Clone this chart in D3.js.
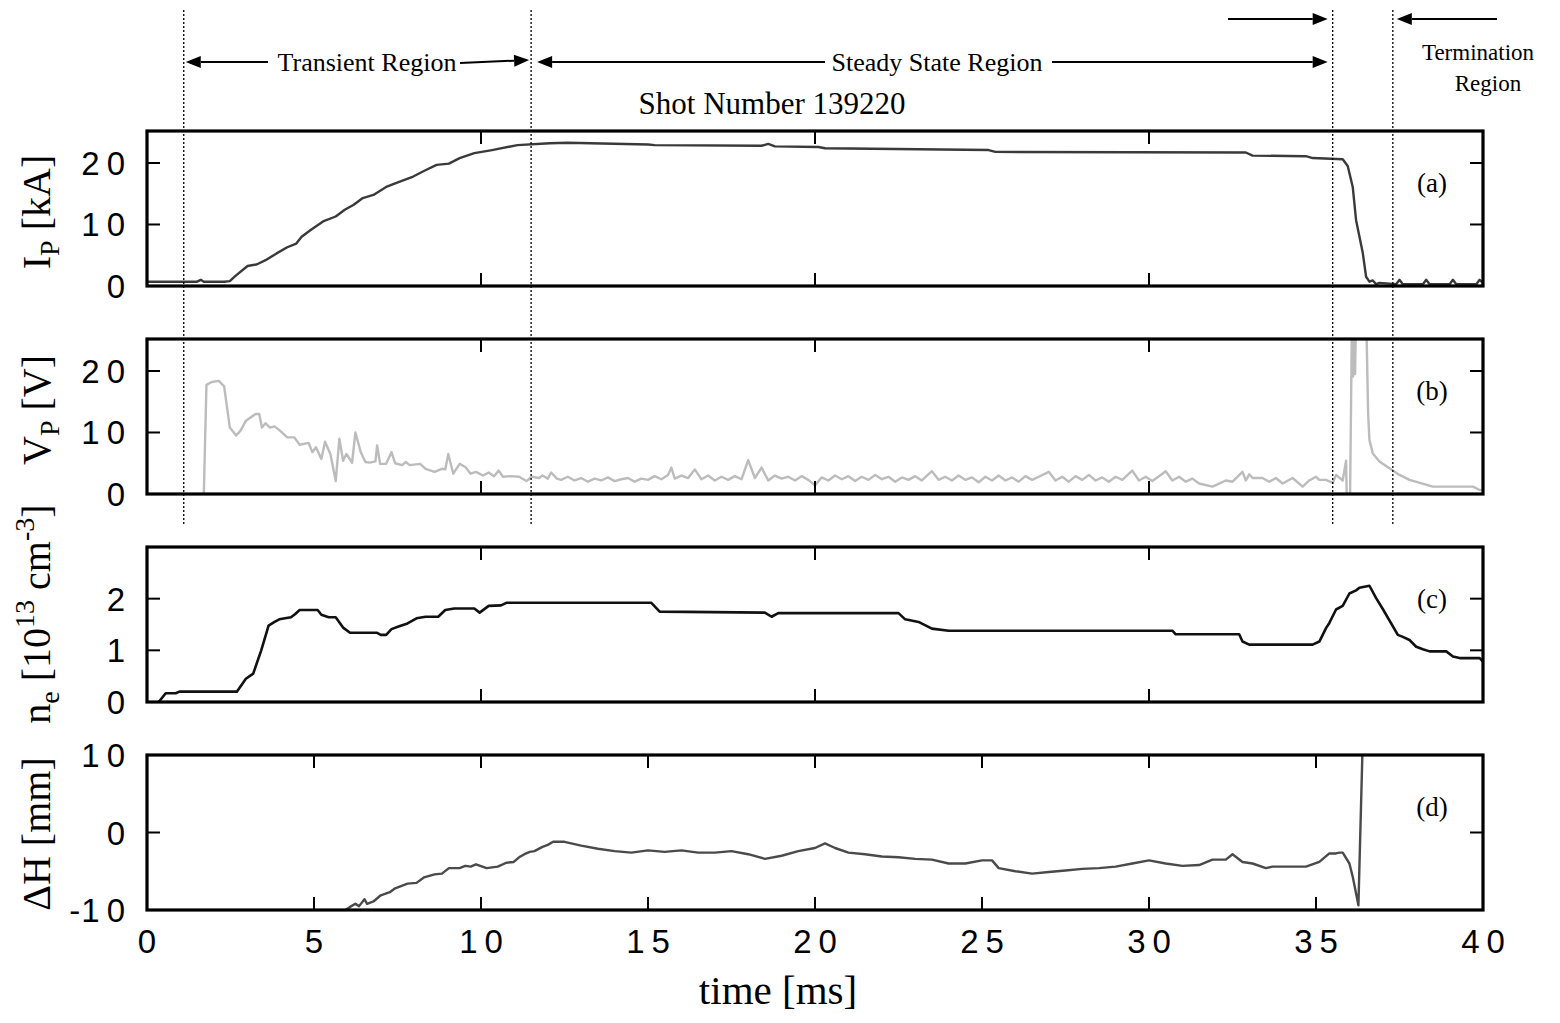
<!DOCTYPE html>
<html>
<head>
<meta charset="utf-8">
<script src="https://cdn.jsdelivr.net/npm/d3@7"></script>
<style>
body { margin: 0; background: #fff; }
</style>
</head>
<body>
<script>
// ---- data ----
var xTicks = [0, 5, 10, 15, 20, 25, 30, 35, 40];
var regionBounds = [1.1, 11.5, 35.5, 37.3];

var ipTime = [0, 1.5, 1.61, 1.7, 2.31, 2.48, 2.64, 3.01, 3.28, 3.55, 3.88, 4.2, 4.47, 4.63, 4.9, 5.27, 5.65, 5.92, 6.19, 6.46, 6.78, 7.16, 7.53, 7.97, 8.29, 8.67, 9.04, 9.36, 9.8, 10.33, 11.09, 12.06, 12.6, 15.0, 15.2, 18.4, 18.6, 18.8, 20.1, 20.3, 25.2, 25.4, 32.9, 33.1, 34.7, 34.9, 35.8, 35.95, 36.1, 36.2, 36.4, 36.5, 36.6, 36.7, 36.8, 36.9, 37.4, 37.5, 37.6, 38.2, 38.3, 38.4, 39.0, 39.1, 39.2, 39.8, 39.9, 40];
var ipVal  = [0.7, 0.7, 1.0, 0.7, 0.7, 0.8, 1.6, 3.25, 3.5, 4.2, 5.3, 6.3, 6.9, 8.0, 9.1, 10.5, 11.3, 12.4, 13.2, 14.3, 14.8, 16.1, 16.9, 17.8, 18.7, 19.7, 19.9, 20.8, 21.6, 22.1, 22.9, 23.2, 23.3, 23.0, 22.9, 22.8, 23.1, 22.7, 22.6, 22.4, 22.1, 21.8, 21.7, 21.2, 21.1, 20.8, 20.6, 19.5, 16.1, 10.7, 5.4, 1.5, 0.7, 0.9, 0.3, 0.5, 0.3, 1.0, 0.3, 0.3, 1.0, 0.3, 0.3, 1.0, 0.3, 0.3, 1.0, 0.5];

var vpTime = [0, 1.7, 1.78, 1.94, 2.15, 2.31, 2.48, 2.67, 2.8, 2.96, 3.25, 3.36, 3.44, 3.55, 3.68, 3.82, 3.98, 4.2, 4.41, 4.57, 4.84, 4.95, 5.06, 5.22, 5.33, 5.49, 5.65, 5.76, 5.87, 5.97, 6.14, 6.24, 6.4, 6.54, 6.67, 6.84, 6.89, 6.98, 7.16, 7.32, 7.43, 7.64, 7.75, 7.86, 8.18, 8.34, 8.61, 8.83, 8.93, 9.02, 9.17, 9.36, 9.53, 9.69, 9.85, 10.06, 10.23, 10.39, 10.53, 10.66, 10.87, 11.14, 11.36, 11.52, 11.74, 11.84, 12.0, 12.1, 12.27,
  12.4, 12.6, 12.8, 13.0, 13.2, 13.4, 13.6, 13.8, 14.0, 14.2, 14.4, 14.6, 14.8, 15.0, 15.2, 15.4, 15.6, 15.7, 15.8, 16.0, 16.2, 16.4, 16.6, 16.8, 17.0, 17.2, 17.4, 17.6, 17.8, 18.0, 18.2, 18.4, 18.6, 18.8, 19.0, 19.2, 19.4, 19.6, 19.8, 20.0, 20.2, 20.4, 20.6, 20.8, 21.0, 21.2, 21.4, 21.6, 21.8, 22.0, 22.2, 22.4, 22.6, 22.8, 23.0, 23.2, 23.5, 23.7, 23.9, 24.1, 24.3, 24.5, 24.7, 24.9, 25.1, 25.3, 25.5, 25.7, 25.9, 26.1, 26.3, 26.5, 26.7, 27.0, 27.2, 27.4, 27.6, 27.8, 28.0, 28.2, 28.4, 28.6, 28.8, 29.0, 29.2, 29.5, 29.7, 29.9, 30.1, 30.3, 30.5, 30.7, 30.9, 31.1, 31.3,
  31.5, 31.9, 32.3, 32.5, 32.8, 32.9, 33.0, 33.1, 33.4, 33.6, 33.8, 34.0, 34.3, 34.6, 34.8, 35.0, 35.1, 35.3, 35.5, 35.6, 35.8, 35.9, 35.92, 36.02, 36.08, 36.11, 36.14, 36.17, 36.2, 36.5, 36.56, 36.6, 36.7, 36.9, 37.2, 37.5, 37.8, 38.5, 39.7, 39.9, 40];
var vpVal  = [-0.2, -0.2, 17.75, 18.2, 18.4, 17.5, 10.8, 9.5, 10.3, 11.9, 13.0, 13.0, 10.8, 11.5, 10.8, 11.0, 10.3, 9.2, 9.2, 8.0, 8.3, 6.8, 7.6, 5.7, 8.5, 6.5, 2.1, 9.0, 5.4, 6.5, 5.1, 10.0, 6.8, 5.2, 5.1, 5.3, 7.9, 4.9, 4.9, 6.8, 5.0, 4.7, 5.2, 4.7, 4.9, 4.1, 3.6, 4.1, 4.0, 6.5, 3.3, 4.9, 4.4, 3.3, 3.6, 3.0, 3.5, 2.9, 3.8, 2.8, 2.9, 2.8, 2.1, 2.8, 2.6, 3.0, 2.5, 3.5, 2.5,
  2.3, 2.8, 2.2, 2.6, 2.0, 2.5, 2.2, 2.7, 2.1, 2.4, 2.6, 2.0, 2.5, 2.3, 2.9, 2.4, 3.1, 4.3, 2.5, 3.0, 2.6, 4.0, 2.4, 3.0, 2.2, 2.8, 2.3, 2.9, 2.4, 5.5, 2.6, 4.3, 2.2, 3.0, 2.5, 2.8, 2.2, 2.9, 2.3, 1.4, 2.7, 2.2, 3.0, 2.4, 2.9, 2.1, 2.8, 2.3, 3.1, 2.4, 2.8, 2.0, 2.7, 2.3, 2.9, 2.2, 3.7, 2.3, 2.8, 2.2, 3.0, 2.3, 2.7, 1.9, 2.8, 2.2, 3.0, 2.2, 2.7, 2.0, 2.9, 2.3, 2.8, 3.6, 2.2, 2.8, 2.0, 2.9, 2.3, 3.1, 2.2, 2.7, 2.0, 2.8, 2.3, 3.8, 2.2, 2.8, 2.1, 2.9, 3.7, 2.2, 2.8, 2.0, 2.5,
  1.7, 1.2, 2.2, 2.0, 3.6, 2.2, 3.2, 2.6, 2.6, 2.0, 2.6, 1.7, 2.6, 1.2, 2.2, 2.8, 2.3, 2.3, 1.8, 3.1, 2.2, 5.4, -0.4, -0.4, 30, 19.1, 30, 19.5, 30, 30, 13.2, 8.8, 6.6, 5.3, 4.2, 3.1, 2.3, 1.2, 1.2, 0.65, 0.65];

var neTime = [0.35, 0.56, 0.86, 0.97, 2.69, 2.96, 3.18, 3.42, 3.64, 3.82, 3.96, 4.31, 4.43, 4.57, 5.11, 5.22, 5.44, 5.65, 5.87, 6.08, 6.89, 7.0, 7.16, 7.32, 7.53, 7.8, 8.07, 8.34, 8.72, 8.93, 9.2, 9.8, 9.96, 10.23, 10.6, 10.76, 15.1, 15.35, 18.5, 18.7, 18.9, 22.5, 22.7, 23.1, 23.5, 24.0, 30.7, 30.8, 32.7, 32.8, 33.0, 34.9, 35.1, 35.3, 35.4, 35.6, 35.8, 36.0, 36.2, 36.3, 36.6, 36.8, 37.0, 37.45, 37.6, 37.8, 38.0, 38.2, 38.4, 38.9, 39.1, 39.3, 39.9, 40];
var neVal  = [0, 0.17, 0.17, 0.2, 0.2, 0.45, 0.55, 1.0, 1.48, 1.55, 1.6, 1.64, 1.7, 1.78, 1.78, 1.69, 1.64, 1.64, 1.44, 1.34, 1.34, 1.3, 1.3, 1.41, 1.46, 1.52, 1.62, 1.65, 1.65, 1.78, 1.81, 1.81, 1.73, 1.86, 1.87, 1.92, 1.92, 1.75, 1.73, 1.65, 1.72, 1.72, 1.6, 1.55, 1.42, 1.38, 1.38, 1.31, 1.31, 1.17, 1.11, 1.11, 1.17, 1.43, 1.53, 1.79, 1.86, 2.10, 2.16, 2.21, 2.25, 2.01, 1.80, 1.30, 1.26, 1.20, 1.07, 1.02, 0.98, 0.98, 0.88, 0.85, 0.85, 0.78];

var dhTime = [5.5, 5.87, 6.08, 6.24, 6.35, 6.51, 6.59, 6.78, 7.0, 7.27, 7.43, 7.8, 8.07, 8.29, 8.61, 8.83, 9.04, 9.36, 9.53, 9.69, 9.85, 10.17, 10.5, 10.76, 10.98, 11.14, 11.3, 11.46, 11.6, 11.84, 12.0, 12.16, 12.5, 13.0, 13.5, 14.0, 14.5, 15.0, 15.5, 16.0, 16.5, 17.0, 17.5, 18.0, 18.5, 19.0, 19.5, 20.0, 20.3, 20.6, 21.0, 21.5, 22.0, 22.5, 23.0, 23.5, 24.0, 24.5, 25.0, 25.3, 25.5, 26.0, 26.5, 27.0, 27.5, 28.0, 28.5, 29.0, 29.5, 30.0, 30.5, 31.0, 31.5, 31.9, 32.3, 32.5, 32.8, 33.1, 33.5, 33.7, 34.7, 35.1, 35.4, 35.6, 35.7, 35.8, 36.0, 36.1, 36.27, 36.4];
var dhVal  = [-10.3, -10.2, -9.6, -9.2, -9.5, -8.6, -9.2, -8.9, -8.1, -7.7, -7.2, -6.6, -6.5, -5.8, -5.4, -5.3, -4.6, -4.6, -4.3, -4.4, -4.1, -4.6, -4.4, -3.9, -3.8, -3.2, -2.8, -2.5, -2.4, -1.85, -1.6, -1.2, -1.2, -1.7, -2.1, -2.4, -2.6, -2.3, -2.5, -2.3, -2.6, -2.6, -2.4, -2.8, -3.4, -3.0, -2.4, -2.0, -1.4, -2.0, -2.6, -2.8, -3.1, -3.2, -3.4, -3.5, -4.0, -4.0, -3.6, -3.6, -4.6, -5.0, -5.3, -5.1, -4.9, -4.7, -4.6, -4.4, -4.0, -3.6, -4.0, -4.3, -4.2, -3.5, -3.5, -2.8, -3.8, -4.0, -4.6, -4.4, -4.4, -3.8, -2.7, -2.7, -2.6, -2.6, -4.0, -5.7, -9.4, 12];

// ---- layout ----
var svg = d3.select("body").append("svg")
    .attr("width", 1560).attr("height", 1023);

var x = d3.scaleLinear().domain([0, 40]).range([147, 1483]);

var panels = [
    {id: "a", top: 131, bottom: 286, dom: [0, 25.2], yt: [0, 10, 20], xt: [10, 20, 30],
     t: ipTime, v: ipVal, color: "#3a3a3a", width: 2.4,
     title: [["I"], ["P", "sub"], [" [kA]"]], titleY: 212},
    {id: "b", top: 339, bottom: 494, dom: [0, 25.2], yt: [0, 10, 20], xt: [10, 20, 30],
     t: vpTime, v: vpVal, color: "#bcbcbc", width: 2.4,
     title: [["V"], ["P", "sub"], [" [V]"]], titleY: 410},
    {id: "c", top: 547, bottom: 702, dom: [0, 3], yt: [0, 1, 2], xt: [10, 20, 30],
     t: neTime, v: neVal, color: "#111", width: 2.6,
     title: [["n"], ["e", "sub"], [" [10"], ["13", "sup"], [" cm"], ["-3", "sup"], ["]"]], titleY: 614},
    {id: "d", top: 755, bottom: 910, dom: [-10, 10], yt: [-10, 0, 10], xt: [5, 10, 15, 20, 25, 30, 35],
     t: dhTime, v: dhVal, color: "#4a4a4a", width: 2.4,
     title: [["\u0394H [mm]"]], titleY: 834}
];

var serif = "'Liberation Serif', 'Times New Roman', serif";
var sans = "'Liberation Sans', Arial, sans-serif";

panels.forEach(function(p) {
    var y = d3.scaleLinear().domain(p.dom).range([p.bottom, p.top]);
    var g = svg.append("g").attr("class", "panel-" + p.id);

    g.append("clipPath").attr("id", "clip-" + p.id)
        .append("rect")
        .attr("x", x(0)).attr("y", p.top)
        .attr("width", x(40) - x(0)).attr("height", p.bottom - p.top);

    var pts = p.t.map(function(t, i) { return [t, p.v[i]]; });
    var line = d3.line().x(function(d) { return x(d[0]); }).y(function(d) { return y(d[1]); });

    g.append("path")
        .datum(pts)
        .attr("clip-path", "url(#clip-" + p.id + ")")
        .attr("d", line)
        .attr("fill", "none")
        .attr("stroke", p.color)
        .attr("stroke-width", p.width)
        .attr("stroke-linejoin", "round");

    // inward ticks on all four sides
    var tl = 13;
    p.yt.forEach(function(v) {
        var yy = y(v);
        if (yy > p.top + 2 && yy < p.bottom - 2) {
            g.append("line").attr("x1", x(0)).attr("x2", x(0) + tl).attr("y1", yy).attr("y2", yy)
                .attr("stroke", "#000").attr("stroke-width", 2);
            g.append("line").attr("x1", x(40)).attr("x2", x(40) - tl).attr("y1", yy).attr("y2", yy)
                .attr("stroke", "#000").attr("stroke-width", 2);
        }
        var lab = g.append("text")
            .attr("x", 132).attr("y", yy + 12)
            .attr("text-anchor", "end")
            .attr("font-family", sans).attr("font-size", 33);
        var s = String(Math.abs(v));
        if (v < 0) lab.append("tspan").attr("letter-spacing", 1).text("-");
        lab.append("tspan").attr("letter-spacing", 7).text(s);
    });
    p.xt.forEach(function(t) {
        g.append("line").attr("x1", x(t)).attr("x2", x(t)).attr("y1", p.top).attr("y2", p.top + tl)
            .attr("stroke", "#000").attr("stroke-width", 2);
        g.append("line").attr("x1", x(t)).attr("x2", x(t)).attr("y1", p.bottom).attr("y2", p.bottom - tl)
            .attr("stroke", "#000").attr("stroke-width", 2);
    });

    g.append("rect")
        .attr("x", x(0)).attr("y", p.top)
        .attr("width", x(40) - x(0)).attr("height", p.bottom - p.top)
        .attr("fill", "none").attr("stroke", "#000").attr("stroke-width", 3.2);

    g.append("text")
        .attr("x", 1432).attr("y", (p.top + 52) + 9)
        .attr("text-anchor", "middle")
        .attr("font-family", serif).attr("font-size", 27)
        .text("(" + p.id + ")");

    // rotated axis title with sub/superscripts
    var tt = g.append("text")
        .attr("transform", "translate(50," + p.titleY + ") rotate(-90)")
        .attr("text-anchor", "middle")
        .attr("font-family", serif).attr("font-size", 40);
    var shift = 0;
    p.title.forEach(function(part) {
        var s = tt.append("tspan").text(part[0]);
        var target = part[1] === "sub" ? 9 : part[1] === "sup" ? -16 : 0;
        if (part[1]) s.attr("font-size", 28);
        if (target !== shift) s.attr("dy", target - shift);
        shift = target;
    });
});

// x tick labels under the bottom panel
xTicks.forEach(function(t) {
    svg.append("text")
        .attr("x", x(t) + 3.5).attr("y", 953)
        .attr("text-anchor", "middle")
        .attr("font-family", sans).attr("font-size", 33)
        .attr("letter-spacing", 7)
        .text(t);
});

svg.append("text")
    .attr("x", 778).attr("y", 1004)
    .attr("text-anchor", "middle")
    .attr("font-family", serif).attr("font-size", 41)
    .text("time [ms]");

// dotted region boundaries
regionBounds.forEach(function(t) {
    svg.append("line")
        .attr("x1", x(t)).attr("x2", x(t)).attr("y1", 10).attr("y2", 524)
        .attr("stroke", "#000").attr("stroke-width", 1.3)
        .attr("stroke-dasharray", "2,2");
});

// arrows
function arrow(x1, y1, x2, y2) {
    var ang = Math.atan2(y2 - y1, x2 - x1);
    var L = 15, Wd = 6;
    var bx = x2 - L * Math.cos(ang), by = y2 - L * Math.sin(ang);
    svg.append("line").attr("x1", x1).attr("y1", y1).attr("x2", bx).attr("y2", by)
        .attr("stroke", "#000").attr("stroke-width", 2);
    svg.append("path")
        .attr("d", "M" + x2 + "," + y2 +
            "L" + (bx + Wd * Math.sin(ang)) + "," + (by - Wd * Math.cos(ang)) +
            "L" + (bx - Wd * Math.sin(ang)) + "," + (by + Wd * Math.cos(ang)) + "Z")
        .attr("fill", "#000");
}
function label(tx, ty, s, size) {
    svg.append("text").attr("x", tx).attr("y", ty)
        .attr("text-anchor", "middle")
        .attr("font-family", serif).attr("font-size", size || 26)
        .text(s);
}

arrow(268, 62, x(regionBounds[0]) + 2, 62);
label(367, 71, "Transient Region");
arrow(460, 63, x(regionBounds[1]) - 2, 60);

arrow(825, 62, x(regionBounds[1]) + 6, 62);
label(937, 71, "Steady State Region");
arrow(1052, 62, x(regionBounds[2]) - 5, 62);

arrow(1228, 19, x(regionBounds[2]) - 5, 19);
arrow(1497, 19, x(regionBounds[3]) + 4, 19);
label(1478, 60, "Termination", 23);
label(1488, 91, "Region", 23);

label(772, 114, "Shot Number 139220", 31);
</script>
</body>
</html>
